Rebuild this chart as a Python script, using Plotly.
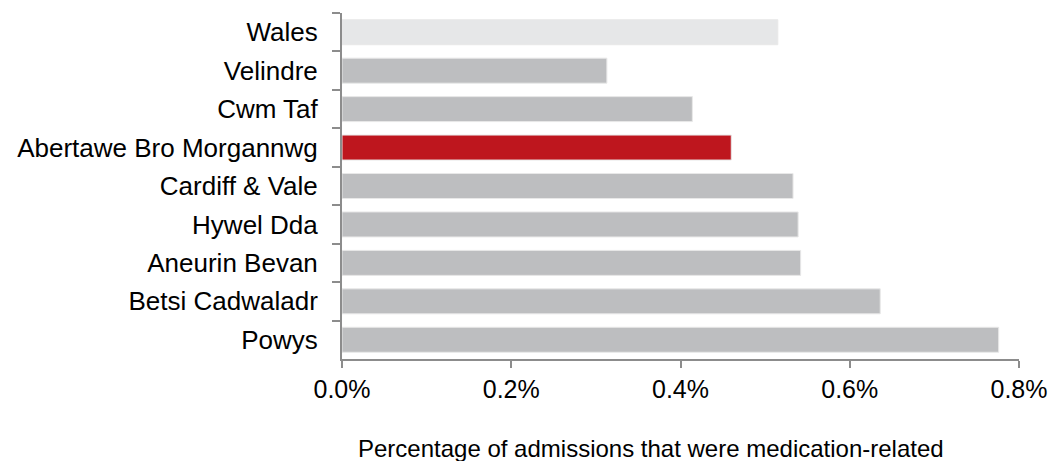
import plotly.graph_objects as go

categories = ["Wales", "Velindre", "Cwm Taf", "Abertawe Bro Morgannwg", "Cardiff & Vale",
              "Hywel Dda", "Aneurin Bevan", "Betsi Cadwaladr", "Powys"]
values = [0.515, 0.313, 0.414, 0.460, 0.533, 0.539, 0.542, 0.636, 0.776]
colors = ["#E6E7E8", "#BDBEC0", "#BDBEC0", "#BE161E", "#BDBEC0",
          "#BDBEC0", "#BDBEC0", "#BDBEC0", "#BDBEC0"]
x_ticks = [0.0, 0.2, 0.4, 0.6, 0.8]
x_tick_labels = ["0.0%", "0.2%", "0.4%", "0.6%", "0.8%"]
x_title = "Percentage of admissions that were medication-related"

font = "Liberation Sans, Arial, sans-serif"
axis_col = "#8C8C8C"

fig = go.Figure(go.Bar(
    x=values, y=categories, orientation="h",
    marker=dict(color=colors, line=dict(color="#E8E8E8", width=1)),
))

fig.update_layout(
    width=1048, height=461,
    margin=dict(l=342, r=29, t=13, b=102),
    plot_bgcolor="white", paper_bgcolor="white",
    bargap=0.35, showlegend=False,
    font=dict(family=font, size=26, color="#000000"),
    xaxis=dict(range=[0, 0.8], tickvals=x_ticks, ticktext=x_tick_labels,
               ticklabeloverflow="allow", automargin=False,
               showgrid=False, zeroline=False, showline=True, linecolor=axis_col, linewidth=2,
               ticks="outside", ticklen=7, tickcolor=axis_col, tickwidth=2,
               tickfont=dict(size=25, family=font)),
    yaxis=dict(autorange="reversed", showgrid=False, zeroline=False, automargin=False,
               showline=True, linecolor=axis_col, linewidth=2,
               ticks="outside", tickson="boundaries", ticklen=8, tickcolor=axis_col, tickwidth=2,
               ticklabelstandoff=17,
               tickfont=dict(size=26, family=font)),
    annotations=[dict(text=x_title, xref="paper", yref="paper", x=0.456, y=-0.258,
                      xanchor="center", yanchor="middle", showarrow=False,
                      font=dict(size=24, family=font))],
)

fig.write_html("out.html")
